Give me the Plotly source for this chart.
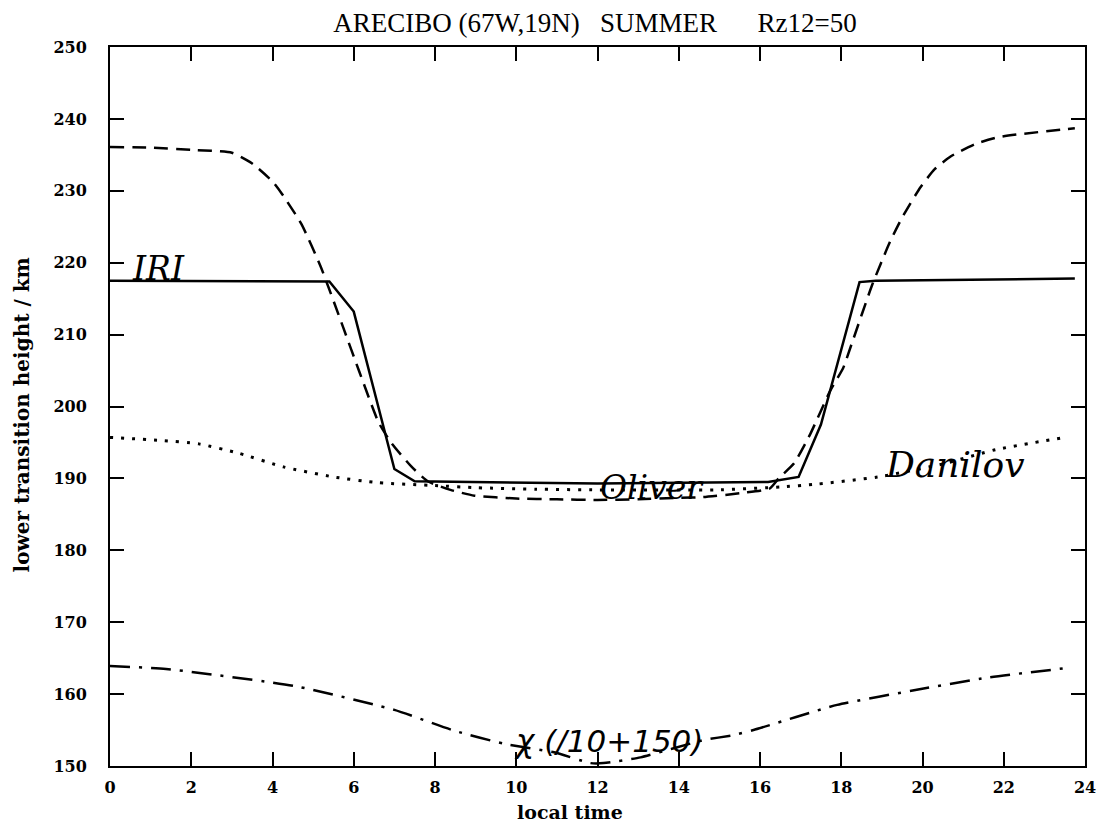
import plotly.graph_objects as go

# ---- data ----
iri_t = [0, 5.4, 6.0, 7.0, 7.5, 12, 16.2, 16.95, 17.5, 18.45, 18.85, 23.75]
iri_h = [217.5, 217.4, 213.2, 191.3, 189.6, 189.3, 189.5, 190.2, 197.5, 217.3, 217.5, 217.8]

oliver_t = [0, 1, 2, 3, 3.5, 4.0, 4.23, 4.71, 5.19, 5.74, 6.14, 6.61, 6.93, 7.41, 7.82, 8.38,
            8.97, 10, 11, 12, 13, 14, 14.6, 15.6, 16.24, 16.46, 16.84, 17.24, 17.72, 18.05,
            18.25, 18.76, 19.2, 19.5, 19.95, 20.3, 20.7, 21.3, 21.9, 23.75]
oliver_h = [236.1, 236.0, 235.7, 235.3, 233.8, 231.3, 229.6, 225.4, 219.4, 211.0, 204.8, 197.8,
            194.9, 191.7, 189.6, 188.4, 187.6, 187.2, 187.1, 187.0, 187.1, 187.3, 187.4,
            188.0, 188.6, 190.0, 192.1, 196.2, 202.1, 205.4, 208.6, 216.9, 222.9, 226.3,
            230.5, 233.0, 234.8, 236.5, 237.5, 238.7]

danilov_t = [0, 1.2, 2.19, 3.17, 4.27, 5.5, 6.6, 8, 9.05, 10.5, 12, 14.9, 16.5, 17.4,
             18.9, 20.5, 21.8, 23.5]
danilov_h = [195.7, 195.3, 194.8, 193.5, 191.6, 190.2, 189.4, 189.0, 188.7, 188.5, 188.4,
             188.4, 188.8, 189.2, 190.2, 192.0, 194.0, 195.7]

chi_t = [0, 1.38, 4.56, 7.0, 8.48, 9.7, 10.93, 11.83, 12.15, 13.06, 14.61, 15.35, 15.84,
         17.9, 19.96, 21.6, 23.67]
chi_h = [163.9, 163.5, 161.1, 157.8, 154.9, 153.1, 151.9, 150.4, 150.4, 151.2, 153.6,
         154.3, 155.0, 158.5, 160.7, 162.3, 163.7]

x_ticks = list(range(0, 25, 2))
y_ticks = list(range(150, 251, 10))

title_text = "ARECIBO (67W,19N)   SUMMER      Rz12=50"
x_title = "local time"
y_title = "lower transition height / km"

labels = [
    ("IRI", 1.2, 219.2, "DejaVu Serif", 33),
    ("Oliver", 13.34, 188.7, "DejaVu Serif", 33),
    ("Danilov", 20.8, 191.9, "DejaVu Serif", 36),
    ("χ (/10+150)", 12.28, 153.5, "DejaVu Sans", 31),
]

# ---- figure ----
fig = go.Figure()
fig.add_trace(go.Scatter(x=iri_t, y=iri_h, mode="lines", name="IRI",
                         line=dict(color="black", width=2.5)))
fig.add_trace(go.Scatter(x=oliver_t, y=oliver_h, mode="lines", name="Oliver",
                         line=dict(color="black", width=2.5, dash="14px,8px", shape="spline", smoothing=0.5)))
fig.add_trace(go.Scatter(x=danilov_t, y=danilov_h, mode="lines", name="Danilov",
                         line=dict(color="black", width=3, dash="3px,8px", shape="spline", smoothing=0.5)))
fig.add_trace(go.Scatter(x=chi_t, y=chi_h, mode="lines", name="chi",
                         line=dict(color="black", width=2.5, dash="20px,9px,3px,9px", shape="spline", smoothing=0.5)))

for txt, xx, yy, fam, sz in labels:
    fig.add_annotation(x=xx, y=yy, xref="x", yref="y", text="<i>%s</i>" % txt,
                       showarrow=False, font=dict(family=fam, size=sz, color="black"))

fig.add_annotation(x=0.472, y=-0.064, xref="paper", yref="paper", text="<b>%s</b>" % x_title,
                   xanchor="center", yanchor="middle", showarrow=False,
                   font=dict(family="DejaVu Serif", size=19, color="black"))
fig.add_annotation(x=-0.09, y=0.488, xref="paper", yref="paper", text="<b>%s</b>" % y_title,
                   xanchor="center", yanchor="middle", textangle=-90, showarrow=False,
                   font=dict(family="DejaVu Serif", size=20, color="black"))

fig.update_layout(
    width=1108, height=825,
    margin=dict(l=110, r=20, t=47, b=59),
    paper_bgcolor="white", plot_bgcolor="white",
    showlegend=False,
    title=dict(text=title_text, xref="container", yref="container", x=0.537, y=0.973,
               xanchor="center", yanchor="middle",
               font=dict(family="Liberation Serif", size=27, color="black")),
)
fig.update_xaxes(range=[0, 24], tickvals=x_ticks, ticktext=[str(v) for v in x_ticks],
                 showgrid=False, zeroline=False, showline=True, linecolor="black",
                 linewidth=2, mirror="ticks", ticks="inside", ticklen=14, tickwidth=1.5,
                 tickcolor="black", ticklabelstandoff=6,
                 tickfont=dict(family="DejaVu Serif", size=16, color="black", weight="bold"))
fig.update_yaxes(range=[150, 250], tickvals=y_ticks, ticktext=[str(v) for v in y_ticks],
                 showgrid=False, zeroline=False, showline=True, linecolor="black",
                 linewidth=2, mirror="ticks", ticks="inside", ticklen=14, tickwidth=1.5,
                 tickcolor="black", ticklabelstandoff=18,
                 tickfont=dict(family="DejaVu Serif", size=16, color="black", weight="bold"))

fig.write_html("out.html")
